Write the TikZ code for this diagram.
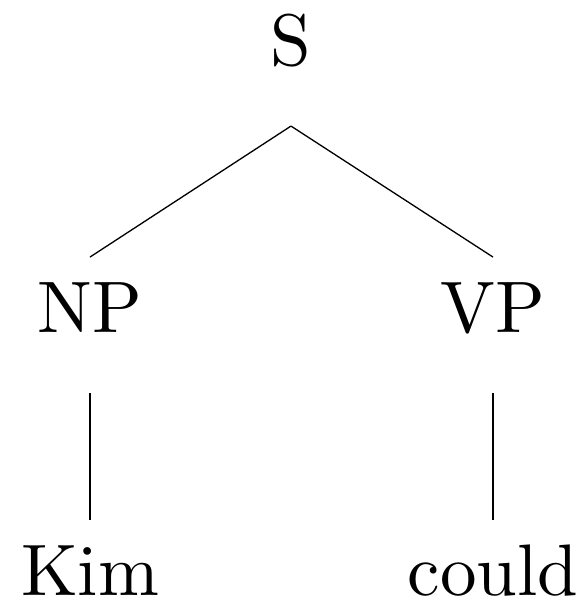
\documentclass[tikz,border=0pt]{standalone}
\begin{document}
\begin{tikzpicture}[x=0.137pt,y=-0.137pt,
  tn/.style={inner sep=0pt,outer sep=0pt,anchor=base,text height=10.27pt,text depth=8.36pt,font=\fontsize{10}{12}\selectfont},
  edge/.style={line width=0.18pt}]
\useasboundingbox (0,0) rectangle (585,601);
\node[tn] (S) at (291,65) {S};
\node[tn] (NP) at (90,332) {NP};
\node[tn] (VP) at (493,332) {VP};
\node[tn] (Kim) at (90,595) {Kim};
\node[tn] (could) at (493,595) {could};
\draw[edge] (S.south) -- (NP.north);
\draw[edge] (S.south) -- (VP.north);
\draw[edge] (NP.south) -- (Kim.north);
\draw[edge] (VP.south) -- (could.north);
\end{tikzpicture}
\end{document}
